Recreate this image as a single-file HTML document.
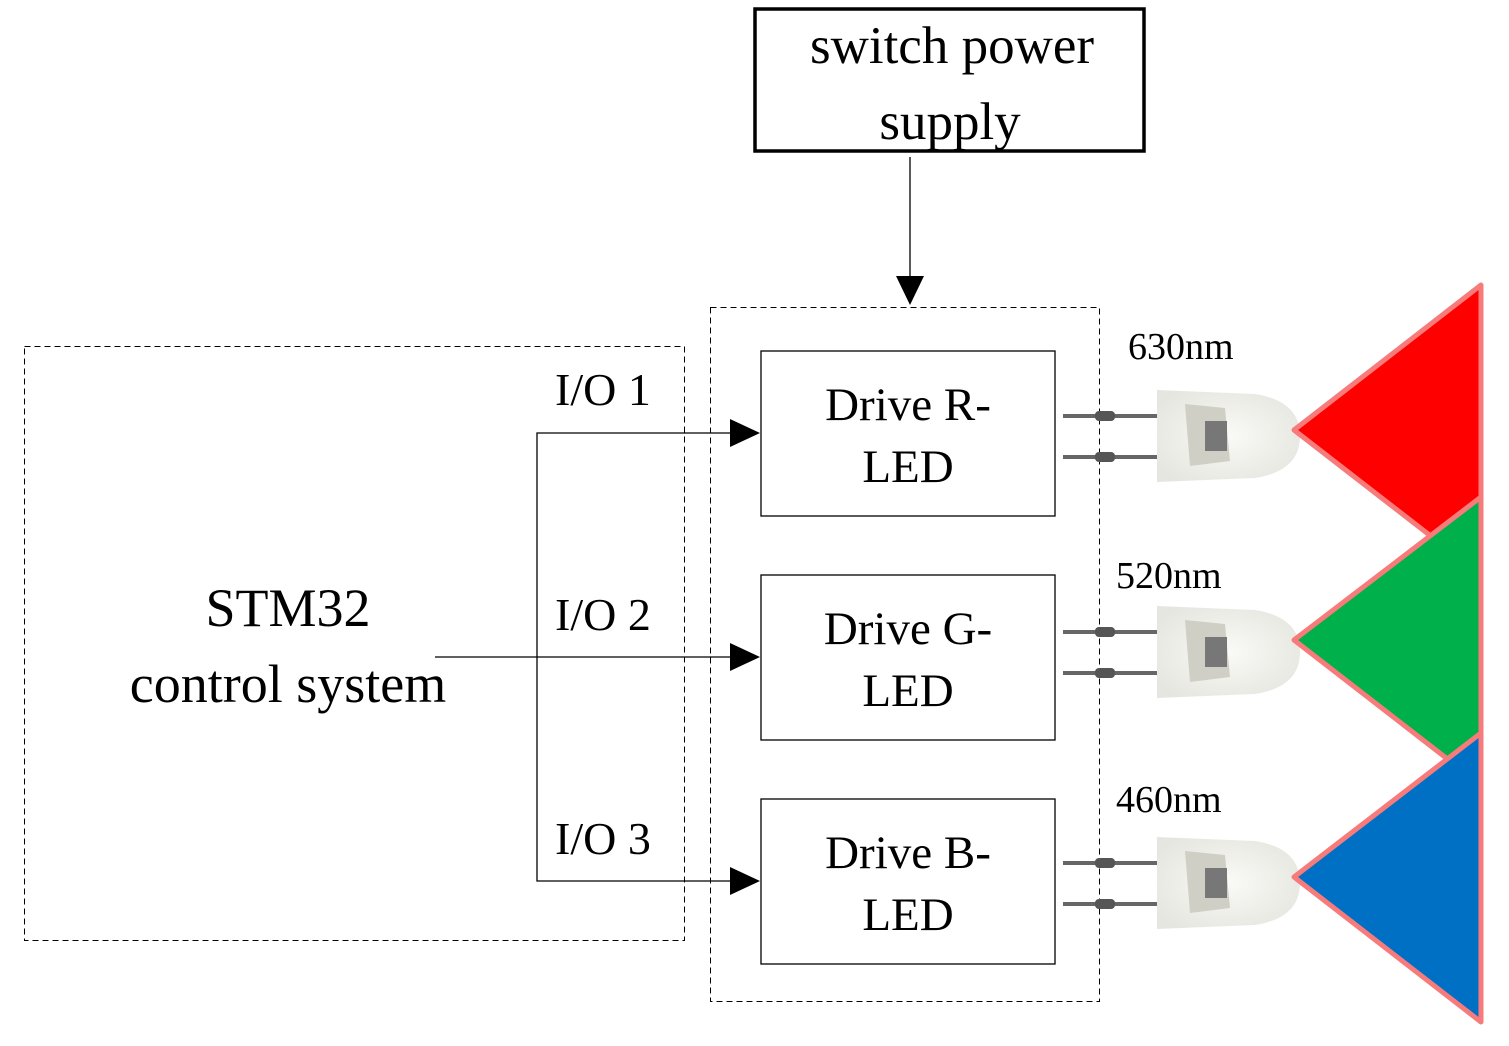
<!DOCTYPE html>
<html><head><meta charset="utf-8"><style>
body{margin:0;background:#fff}
svg{display:block}
text{font-family:"Liberation Serif",serif;fill:#000}
</style></head><body>
<svg width="1509" height="1046" viewBox="0 0 1509 1046">
<defs>
<radialGradient id="g" cx="0.5" cy="0.5" r="0.6">
<stop offset="0" stop-color="#fafaf6"/><stop offset="1" stop-color="#e6e6e0"/></radialGradient>
<g id="led">
<line x1="1063" y1="0" x2="1160" y2="0" stroke="#666" stroke-width="4"/>
<line x1="1063" y1="41" x2="1160" y2="41" stroke="#666" stroke-width="4"/>
<rect x="1095" y="-5" width="20" height="10" rx="4" fill="#555"/>
<rect x="1095" y="36" width="20" height="10" rx="4" fill="#555"/>
<path d="M1157,-26 L1255,-22 Q1300,-15 1300,20 Q1300,55 1255,62 L1157,66 Z" fill="url(#g)"/>
<path d="M1185,-12 L1225,-8 L1230,45 L1190,50 Z" fill="#cfcfc6"/>
<rect x="1205" y="5" width="22" height="30" fill="#777"/>
</g>
</defs>
<rect x="755" y="9" width="389" height="142" fill="none" stroke="#000" stroke-width="3.5"/>
<text x="952" y="63" font-size="53" text-anchor="middle">switch power</text>
<text x="950" y="139" font-size="53" text-anchor="middle">supply</text>
<line x1="910" y1="157" x2="910" y2="280" stroke="#000" stroke-width="1.3"/>
<polygon points="896,276 924,276 910,305" fill="#000"/>
<rect x="710.5" y="307.5" width="389" height="694" fill="none" stroke="#000" stroke-width="1" stroke-dasharray="6,4"/>
<rect x="24.5" y="346.5" width="660" height="594" fill="none" stroke="#000" stroke-width="1" stroke-dasharray="6,4"/>
<text x="288" y="626" font-size="54" text-anchor="middle">STM32</text>
<text x="288" y="702" font-size="54" text-anchor="middle">control system</text>
<text x="555" y="405" font-size="46">I/O 1</text>
<text x="555" y="630" font-size="46">I/O 2</text>
<text x="555" y="854" font-size="46">I/O 3</text>
<g stroke="#000" stroke-width="1.3" fill="none">
<polyline points="732,433 537,433 537,881 732,881"/>
<line x1="435" y1="657" x2="732" y2="657"/>
<rect x="761" y="351" width="294" height="165"/>
<rect x="761" y="575" width="294" height="165"/>
<rect x="761" y="799" width="294" height="165"/>
</g>
<polygon points="730,419 760,433 730,447" fill="#000"/>
<polygon points="730,643 760,657 730,671" fill="#000"/>
<polygon points="730,867 760,881 730,895" fill="#000"/>
<g font-size="47" text-anchor="middle">
<text x="908" y="420">Drive R-</text><text x="908" y="482">LED</text>
<text x="908" y="644">Drive G-</text><text x="908" y="706">LED</text>
<text x="908" y="868">Drive B-</text><text x="908" y="930">LED</text>
</g>
<g font-size="38">
<text x="1128" y="359">630nm</text>
<text x="1116" y="588">520nm</text>
<text x="1116" y="812">460nm</text>
</g>
<use href="#led" transform="translate(0,416)"/>
<use href="#led" transform="translate(0,632)"/>
<use href="#led" transform="translate(0,863)"/>
<g stroke="#f77b7b" stroke-width="5" stroke-linejoin="round">
<polygon points="1294,430 1481,285 1481,575" fill="#ff0000"/>
<polygon points="1294,640 1481,497 1481,785" fill="#00b04a"/>
<polygon points="1294,877 1481,733 1481,1022" fill="#0070c4"/>
</g>
</svg>
</body></html>
